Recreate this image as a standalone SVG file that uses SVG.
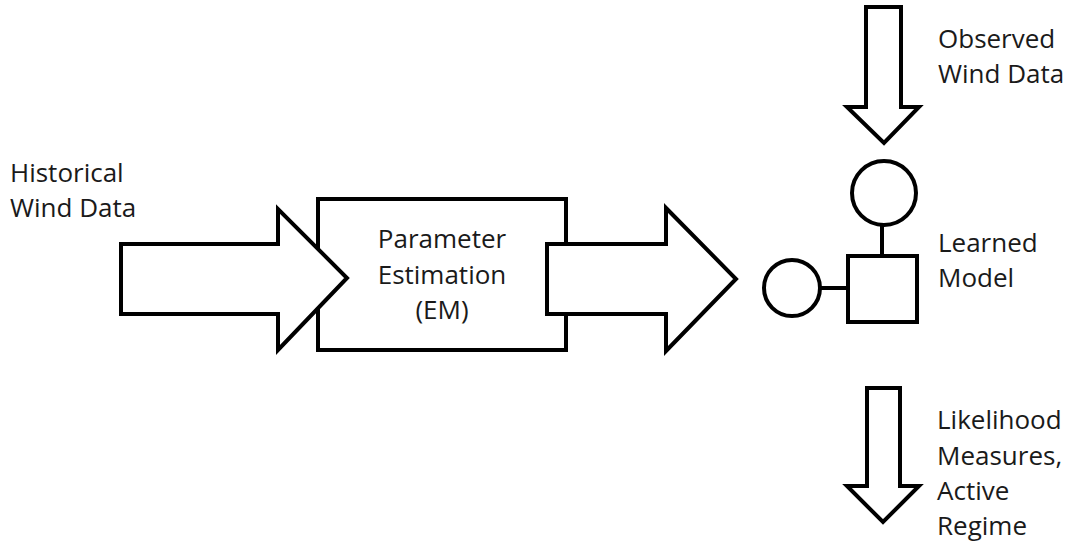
<svg xmlns="http://www.w3.org/2000/svg" width="1070" height="544" viewBox="0 0 1070 544">
<style>
.s{fill:#fff;stroke:#000;stroke-width:4;stroke-linejoin:miter}
.t{font-family:"Open Sans","Noto Sans",sans-serif;font-size:26px;fill:#1a1a1a}
.c{text-anchor:middle}
</style>
<rect width="1070" height="544" fill="#fff"/>
<g id="estimation">
<rect class="s" x="318" y="199" width="248" height="151"/>
<text class="t c" x="442" y="248">Parameter</text>
<text class="t c" x="442" y="284">Estimation</text>
<text class="t c" x="442" y="319">(EM)</text>
</g>
<g id="connectors">
<polygon class="s" points="121,244 278,244 278,209 347,278 278,350 278,314 121,314"/>
<polygon class="s" points="547,244 666,244 666,208 736,279 666,351 666,314 547,314"/>
<polygon class="s" points="866,7 901,7 901,107 919,107 884,143 847,107 866,107"/>
<polygon class="s" points="867,388 900,388 900,486 919,486 883,522 847,486 867,486"/>
<line x1="882" y1="226" x2="882" y2="256" stroke="#000" stroke-width="4"/>
<line x1="821" y1="288" x2="848" y2="288" stroke="#000" stroke-width="4"/>
</g>
<g id="historical">
<text class="t" x="10" y="182">Historical</text>
<text class="t" x="10" y="217">Wind Data</text>
</g>
<g id="observed">
<text class="t" x="938" y="48">Observed</text>
<text class="t" x="938" y="83">Wind Data</text>
</g>
<g id="top-circle"><circle class="s" cx="884" cy="193" r="32"/></g>
<g id="left-circle"><circle class="s" cx="792" cy="288" r="28"/></g>
<g id="square"><rect class="s" x="848" y="256" width="69" height="66"/></g>
<g id="learned">
<text class="t" x="938" y="252">Learned</text>
<text class="t" x="938" y="287">Model</text>
</g>
<g id="output">
<text class="t" x="937" y="429">Likelihood</text>
<text class="t" x="937" y="465">Measures,</text>
<text class="t" x="937" y="500">Active</text>
<text class="t" x="937" y="535">Regime</text>
</g>
</svg>
